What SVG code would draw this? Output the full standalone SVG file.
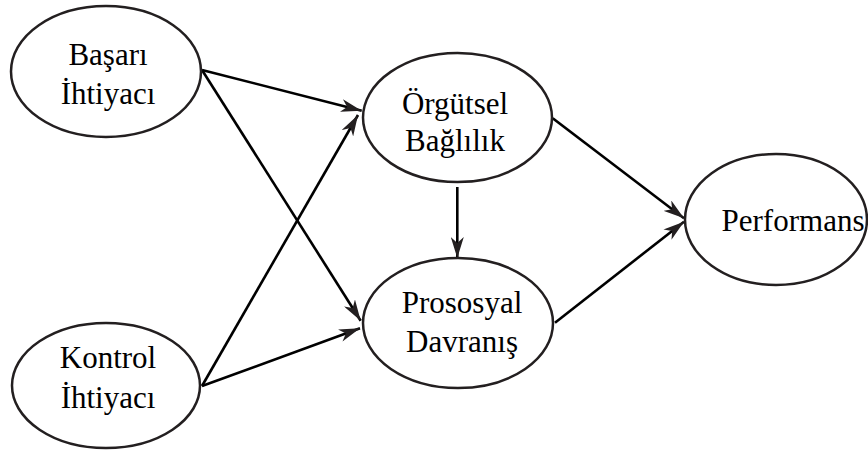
<svg xmlns="http://www.w3.org/2000/svg" width="868" height="454" viewBox="0 0 868 454">
<style>
.node ellipse{fill:#fff;stroke:#231f20;stroke-width:2.5}
.node text{font-family:"Liberation Serif","Times New Roman",serif;font-size:31px;fill:#000;text-anchor:middle}
.edges line{stroke:#000;stroke-width:2.6;marker-end:url(#arr)}
</style>
<defs>
<marker id="arr" markerUnits="userSpaceOnUse" viewBox="0 0 21 13" refX="21" refY="6.5" markerWidth="21" markerHeight="13" orient="auto">
<path d="M0,0 L21,6.5 L0,13 L6,6.5 Z" fill="#231f20"/>
</marker>
</defs>
<rect width="868" height="454" fill="#fff"/>
<g class="edges">
<line x1="202" y1="70" x2="361.7" y2="110.7"/>
<line x1="202" y1="70" x2="360.7" y2="320.7"/>
<line x1="202" y1="386" x2="358" y2="115"/>
<line x1="202" y1="386" x2="360" y2="328.3"/>
<line x1="457.3" y1="187" x2="457.3" y2="258"/>
<line x1="552.7" y1="118.3" x2="684" y2="218.3"/>
<line x1="555" y1="322.7" x2="684" y2="221.7"/>
</g>
<g id="basari" class="node">
<ellipse cx="106" cy="71.5" rx="95" ry="65.5"/>
<text x="108" y="65">Başarı</text>
<text x="108" y="104">İhtiyacı</text>
</g>
<g id="kontrol" class="node">
<ellipse cx="106" cy="385.5" rx="94" ry="62.5"/>
<text x="108" y="368">Kontrol</text>
<text x="108" y="408">İhtiyacı</text>
</g>
<g id="orgutsel" class="node">
<ellipse cx="457.5" cy="117.5" rx="94.5" ry="64.5"/>
<text x="455" y="114">Örgütsel</text>
<text x="455" y="151">Bağlılık</text>
</g>
<g id="prososyal" class="node">
<ellipse cx="458" cy="323" rx="95" ry="65"/>
<text x="462" y="313">Prososyal</text>
<text x="462" y="352">Davranış</text>
</g>
<g id="performans" class="node">
<ellipse cx="776" cy="219.5" rx="91" ry="65.5"/>
<text x="793" y="231">Performans</text>
</g>
</svg>
